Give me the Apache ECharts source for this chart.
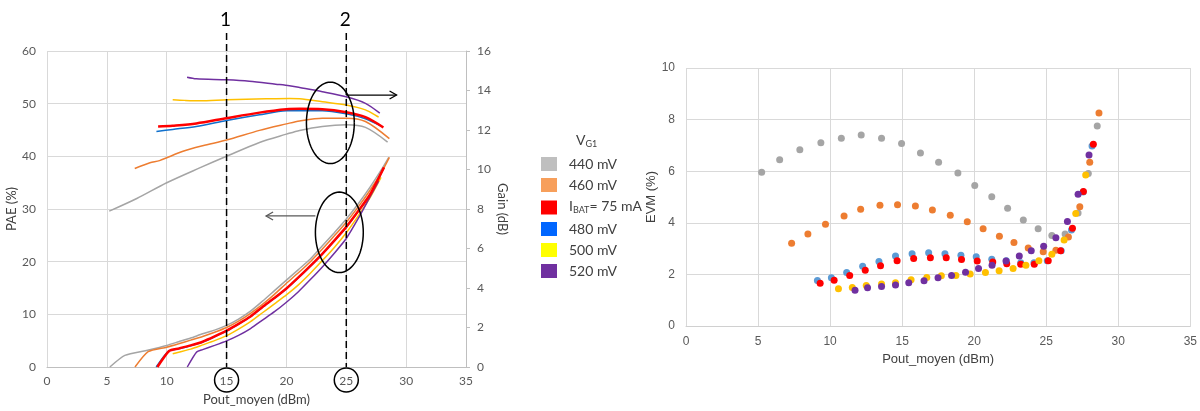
<!DOCTYPE html>
<html><head><meta charset="utf-8">
<script src="https://cdn.jsdelivr.net/npm/echarts@6/dist/echarts.min.js"></script>
<style>html,body{margin:0;padding:0;background:#fff}#c{width:1200px;height:411px}</style>
</head><body><div id="c"></div>
<script>
// ---------------- DATA ----------------
const seriesNames = ['440 mV', '460 mV', 'I_BAT= 75 mA', '480 mV', '500 mV', '520 mV'];
const xTicks = [0, 5, 10, 15, 20, 25, 30, 35];
const paeTicks = [0, 10, 20, 30, 40, 50, 60];
const gainTicks = [0, 2, 4, 6, 8, 10, 12, 14, 16];
const evmTicks = [0, 2, 4, 6, 8, 10];

// PAE (%) vs Pout_moyen (dBm)
const pae440 = [[5.25,0],[6.5,2.2],[8.4,3.2],[10,4.1],[11,4.8],[12,5.5],[13,6.3],[14,7.0],[15,7.9],[16,9.1],[17,10.6],[18,12.5],[19,14.5],[20,16.5],[21,18.5],[22,20.5],[23,23.0],[24,25.5],[25,28.1],[26,31.0],[27,34.2],[28,37.7],[28.55,39.8]];
const pae460 = [[7.35,0],[8.45,2.9],[10,3.75],[11,4.4],[12,5.1],[13,5.8],[14,6.6],[15,7.5],[16,8.7],[17,10.2],[18,11.9],[19,13.8],[20,15.9],[21,17.9],[22,20.0],[23,22.4],[24,24.9],[25,27.5],[26,30.4],[27,33.6],[28,37.2],[28.6,39.8]];
const paeIbat = [[9.22,0],[10.2,3.05],[11,3.5],[12,4.1],[13,4.8],[14,5.8],[15,6.9],[16,8.2],[17,9.6],[18,11.4],[19,13.1],[20,14.9],[21,17.0],[22,19.2],[23,21.5],[24,24.0],[25,26.6],[26,29.6],[27,32.8],[28.15,37.9]];
const pae480 = [[9.12,0],[10.15,3.0],[11,3.45],[12,4.05],[13,4.75],[14,5.75],[15,6.85],[16,8.15],[17,9.55],[18,11.35],[19,13.05],[20,14.85],[21,16.95],[22,19.15],[23,21.45],[24,23.95],[25,26.55],[26,29.55],[27,32.75],[28.05,37.5]];
const pae500 = [[10.5,2.5],[11,2.8],[12,3.4],[13,4.2],[14,5.0],[15,5.95],[16,7.2],[17,8.6],[18,10.3],[19,12.0],[20,13.7],[21,15.6],[22,17.8],[23,20.2],[24,22.7],[25,25.5],[26,28.7],[27,32.2],[27.9,36.0]];
const pae520 = [[11.72,0],[12.5,2.85],[13,3.3],[14,4.1],[15,4.95],[16,6.0],[17,7.3],[18,8.9],[19,10.5],[20,12.3],[21,14.3],[22,16.6],[23,19.0],[24,21.6],[25,24.4],[26,28.2],[27,32.4],[27.7,35.3]];

// Gain (dB) vs Pout_moyen (dBm)
const gain440 = [[5.2,7.89],[7.5,8.53],[10,9.33],[12.75,10.08],[15,10.67],[17.75,11.37],[20,11.79],[21.1,11.98],[23,12.18],[25,12.26],[26.6,12.13],[28.45,11.39]];
const gain460 = [[7.33,10.05],[8.6,10.34],[9.4,10.45],[11.36,10.92],[13,11.2],[15,11.49],[17.75,11.98],[20,12.31],[21.1,12.46],[23,12.6],[25,12.6],[26.6,12.43],[28.6,11.56]];
const gainIbat = [[9.28,12.18],[10.5,12.22],[12.47,12.33],[15,12.6],[17.75,12.88],[20,13.05],[21.1,13.07],[23,13.05],[25,12.9],[26.6,12.65],[28.1,12.13]];
const gain480 = [[9.14,11.93],[10.5,12.03],[12.47,12.18],[15,12.48],[17.75,12.77],[20,12.97],[21.1,12.98],[23,12.98],[25,12.82],[26.6,12.57],[28.0,12.17]];
const gain500 = [[10.5,13.53],[11.5,13.5],[12.75,13.48],[15,13.53],[18.3,13.58],[20.25,13.6],[21.1,13.58],[23,13.43],[25,13.27],[26.6,13.02],[27.7,12.65]];
const gain520 = [[11.7,14.67],[12.47,14.59],[15,14.54],[16.9,14.47],[19.1,14.32],[20.25,14.24],[21.1,14.15],[23,13.94],[25,13.68],[26.6,13.35],[27.8,12.85]];

// EVM (%) vs Pout_moyen (dBm)
const evm440 = [[5.25,5.96],[6.5,6.44],[7.9,6.83],[9.36,7.10],[10.78,7.28],[12.16,7.40],[13.57,7.28],[14.96,7.07],[16.27,6.71],[17.53,6.35],[18.87,5.93],[20.04,5.45],[21.22,5.01],[22.32,4.56],[23.41,4.11],[24.44,3.77],[25.39,3.51],[26.31,3.57],[27.21,4.38],[27.92,5.91],[28.54,7.75]];
const evm460 = [[7.33,3.21],[8.46,3.57],[9.68,3.94],[10.97,4.26],[12.12,4.53],[13.46,4.68],[14.68,4.70],[15.92,4.65],[17.1,4.50],[18.34,4.29],[19.52,4.04],[20.62,3.77],[21.75,3.48],[22.76,3.24],[23.75,3.02],[24.79,2.88],[25.67,2.94],[26.54,3.45],[27.33,4.62],[28.02,6.35],[28.66,8.26]];
const evm480 = [[9.12,1.76],[10.09,1.87],[11.15,2.07],[12.26,2.32],[13.39,2.50],[14.54,2.71],[15.69,2.80],[16.84,2.84],[17.97,2.80],[19.08,2.74],[20.14,2.68],[21.22,2.59],[22.23,2.53],[23.23,2.45],[24.15,2.45],[25.07,2.53],[26.04,2.92],[26.75,3.72],[27.56,5.19],[28.18,6.98]];
const evmIbat = [[9.31,1.66],[10.28,1.77],[11.36,1.96],[12.44,2.16],[13.5,2.34],[14.65,2.53],[15.8,2.62],[16.96,2.65],[18.06,2.65],[19.12,2.58],[20.21,2.52],[21.29,2.48],[22.26,2.41],[23.23,2.39],[24.17,2.39],[25.14,2.53],[26.0,2.92],[26.82,3.79],[27.58,5.21],[28.27,7.04]];
const evm500 = [[10.58,1.44],[11.54,1.49],[12.51,1.57],[13.57,1.63],[14.54,1.68],[15.62,1.79],[16.71,1.88],[17.72,1.95],[18.73,1.96],[19.72,2.02],[20.78,2.07],[21.73,2.14],[22.7,2.23],[23.59,2.35],[24.49,2.53],[25.39,2.78],[26.24,3.33],[27.05,4.36],[27.74,5.85]];
const evm520 = [[11.73,1.39],[12.6,1.48],[13.57,1.53],[14.54,1.59],[15.46,1.68],[16.52,1.75],[17.49,1.87],[18.43,1.96],[19.4,2.08],[20.3,2.23],[21.24,2.35],[22.21,2.52],[23.13,2.71],[23.96,2.92],[24.82,3.09],[25.67,3.42],[26.47,4.05],[27.21,5.11],[27.97,6.63]];

// Annotations
const markerX = [15, 25];
const markerLabels = ['1', '2'];

// ---------------- STYLES ----------------
const lineColors = {'440 mV':'#A5A5A5','460 mV':'#ED7D31','I_BAT= 75 mA':'#FF0000','480 mV':'#1070CC','500 mV':'#FFC000','520 mV':'#7030A0'};
const dotColors = {'440 mV':'#A5A5A5','460 mV':'#ED7D31','I_BAT= 75 mA':'#FF0000','480 mV':'#5B9BD5','500 mV':'#FFC000','520 mV':'#7030A0'};
const legendColors = ['#BFBFBF','#F79F5B','#FF0000','#0066FF','#FFFF00','#7030A0'];
const LF = 'Lato, "Open Sans", sans-serif';
const RF = '"Liberation Sans", Arial, sans-serif';

const chart = echarts.init(document.getElementById('c'));

const paeSets = {'440 mV':pae440,'460 mV':pae460,'480 mV':pae480,'500 mV':pae500,'520 mV':pae520,'I_BAT= 75 mA':paeIbat};
const gainSets = {'440 mV':gain440,'460 mV':gain460,'480 mV':gain480,'500 mV':gain500,'520 mV':gain520,'I_BAT= 75 mA':gainIbat};
const evmSets = {'440 mV':evm440,'460 mV':evm460,'480 mV':evm480,'I_BAT= 75 mA':evmIbat,'500 mV':evm500,'520 mV':evm520};

const series = [];
Object.keys(paeSets).forEach(n => {
  series.push({name:n, type:'line', xAxisIndex:0, yAxisIndex:0, data:paeSets[n], showSymbol:false, smooth:0.2,
    lineStyle:{color:lineColors[n], width:n==='I_BAT= 75 mA'?2.5:1.5}, itemStyle:{color:lineColors[n]}, z:n==='I_BAT= 75 mA'?3:2});
});
Object.keys(gainSets).forEach(n => {
  series.push({name:n, type:'line', xAxisIndex:0, yAxisIndex:1, data:gainSets[n], showSymbol:false, smooth:0.3,
    lineStyle:{color:lineColors[n], width:n==='I_BAT= 75 mA'?2.5:1.5}, itemStyle:{color:lineColors[n]}, z:n==='I_BAT= 75 mA'?3:2});
});
Object.keys(evmSets).forEach(n => {
  series.push({name:n, type:'scatter', xAxisIndex:1, yAxisIndex:2, data:evmSets[n], symbolSize:7,
    itemStyle:{color:dotColors[n], opacity:1}});
});

const lblL = {color:'#595959', fontSize:12, fontFamily:LF};
const lblR = {color:'#595959', fontSize:12, fontFamily:RF};
const split = {lineStyle:{color:'#D9D9D9', width:1}};
const richSub = {
  n:{fontSize:14, fontFamily:LF, color:'#404040', verticalAlign:'top', lineHeight:17},
  s:{fontSize:9, fontFamily:LF, color:'#404040', verticalAlign:'top', lineHeight:10, padding:[7,0,0,0]}};

chart.setOption({
  animation:false,
  title:{text:'{n|V}{s|G1}', left:571, top:128, textStyle:{fontWeight:'normal', rich:richSub}},
  legend:{orient:'vertical', left:536, top:152, itemWidth:16, itemHeight:14, itemGap:7, icon:'rect', selectedMode:false,
    textStyle:{color:'#404040', fontSize:14, fontFamily:LF, padding:[0,0,0,7], rich:richSub},
    formatter: name => name === 'I_BAT= 75 mA' ? '{n|I}{s|BAT}{n|= 75 mA}' : name,
    data: seriesNames.map((n,i) => ({name:n, icon:'rect', itemStyle:{color:legendColors[i], borderWidth:0}}))},
  grid:[{left:47, right:734, top:51, bottom:42}, {left:686, right:7, top:68, bottom:85}],
  xAxis:[
    {gridIndex:0, type:'value', min:xTicks[0], max:xTicks[xTicks.length-1], interval:5,
      axisLine:{lineStyle:{color:'#BFBFBF'}}, axisTick:{show:false}, splitLine:split,
      axisLabel:{...lblL, margin:8, formatter:v=>xTicks.includes(v)?String(v):''},
      name:'Pout_moyen (dBm)', nameLocation:'middle', nameGap:26, nameTextStyle:{color:'#404040', fontSize:13, fontFamily:LF}},
    {gridIndex:1, type:'value', min:xTicks[0], max:xTicks[xTicks.length-1], interval:5,
      axisLine:{lineStyle:{color:'#D0D0D0'}}, axisTick:{show:false}, splitLine:split,
      axisLabel:{...lblR, margin:10, formatter:v=>xTicks.includes(v)?String(v):''},
      name:'Pout_moyen (dBm)', nameLocation:'middle', nameGap:25, nameTextStyle:{color:'#404040', fontSize:13, fontFamily:RF}}
  ],
  yAxis:[
    {gridIndex:0, type:'value', min:paeTicks[0], max:paeTicks[paeTicks.length-1], interval:10, position:'left',
      axisLine:{show:false}, axisTick:{show:false}, splitLine:split, axisLabel:{...lblL, margin:11},
      name:'PAE (%)', nameLocation:'middle', nameGap:23, nameRotate:90, nameTextStyle:{color:'#404040', fontSize:13, fontFamily:LF}},
    {gridIndex:0, type:'value', min:gainTicks[0], max:gainTicks[gainTicks.length-1], interval:2, position:'right',
      axisLine:{show:true, lineStyle:{color:'#BFBFBF'}}, axisTick:{show:true, length:4, lineStyle:{color:'#BFBFBF'}},
      splitLine:{show:false}, axisLabel:{...lblL, margin:11},
      name:'Gain (dB)', nameLocation:'middle', nameGap:30, nameRotate:-90, nameTextStyle:{color:'#404040', fontSize:13, fontFamily:LF}},
    {gridIndex:1, type:'value', min:evmTicks[0], max:evmTicks[evmTicks.length-1], interval:2,
      axisLine:{show:false}, axisTick:{show:false}, splitLine:split, axisLabel:{...lblR, margin:11},
      name:'EVM (%)', nameLocation:'middle', nameGap:27, nameRotate:90, nameTextStyle:{color:'#404040', fontSize:13, fontFamily:RF}}
  ],
  series
});

// ---------------- ANNOTATIONS ----------------
const px = x => chart.convertToPixel({xAxisIndex:0}, x);
const pyP = y => chart.convertToPixel({yAxisIndex:0}, y);
const pyG = y => chart.convertToPixel({yAxisIndex:1}, y);
const bottomY = pyP(0);
const g = [];
markerX.forEach((x, i) => {
  const X = px(x);
  g.push({type:'line', shape:{x1:X, y1:33, x2:X, y2:bottomY}, style:{stroke:'#000', lineWidth:1.5, lineDash:[7,4]}, z:10});
  g.push({type:'text', style:{text:markerLabels[i], x:X - 1, y:20, fill:'#000', font:'19px ' + LF, textAlign:'center', textVerticalAlign:'middle'}, z:10});
  g.push({type:'circle', shape:{cx:X, cy:bottomY + 13, r:12}, style:{fill:'none', stroke:'#000', lineWidth:1.5}, z:10});
});
function ellipse(cx, cy, rx, ry) {
  const pts = [];
  for (let k = 0; k <= 72; k++) { const t = k / 72 * Math.PI * 2; pts.push([cx + rx * Math.cos(t), cy + ry * Math.sin(t)]); }
  return {type:'polyline', shape:{points:pts}, style:{fill:'none', stroke:'#000', lineWidth:1.5}, z:10};
}
// ellipse around gain curves (right axis) and PAE curves (left axis)
const e1x = px(23.67), e1y = pyG(12.36), e1rx = px(25.67) - px(23.67), e1ry = pyG(10.3) - pyG(12.36);
g.push(ellipse(e1x, e1y, e1rx, e1ry));
const e2x = px(24.42), e2y = pyP(25.57), e2rx = px(26.42) - px(24.42), e2ry = pyP(17.93) - pyP(25.57);
g.push(ellipse(e2x, e2y, e2rx, e2ry));
// arrow to the right (gain -> right axis)
const a1y = pyG(13.77), a1x1 = px(25), a1x2 = px(29.2);
g.push({type:'line', shape:{x1:a1x1, y1:a1y, x2:a1x2, y2:a1y}, style:{stroke:'#000', lineWidth:1.3}, z:10});
g.push({type:'polyline', shape:{points:[[a1x2-7,a1y-4],[a1x2,a1y],[a1x2-7,a1y+4]]}, style:{fill:'none', stroke:'#000', lineWidth:1.3}, z:10});
// arrow to the left (PAE -> left axis)
const a2y = pyP(28.68), a2x1 = px(22.42), a2x2 = px(18.3);
g.push({type:'line', shape:{x1:a2x1, y1:a2y, x2:a2x2, y2:a2y}, style:{stroke:'#595959', lineWidth:1.3}, z:10});
g.push({type:'polyline', shape:{points:[[a2x2+7,a2y-4],[a2x2,a2y],[a2x2+7,a2y+4]]}, style:{fill:'none', stroke:'#595959', lineWidth:1.3}, z:10});
chart.setOption({graphic:g});
</script></body></html>
